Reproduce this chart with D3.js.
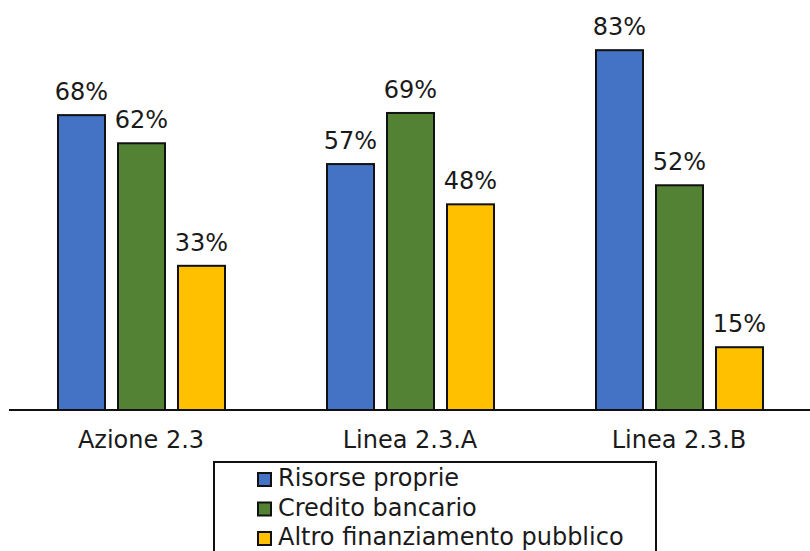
<!DOCTYPE html>
<html><head><meta charset="utf-8">
<script src="https://cdn.jsdelivr.net/npm/d3@7"></script>
<style>body{margin:0;background:#fff}svg{display:block}text{font-family:"DejaVu Sans",Verdana,sans-serif;fill:#1a1a1a}</style>
</head><body>
<script>
const categories = ["Azione 2.3", "Linea 2.3.A", "Linea 2.3.B"];
const seriesNames = ["Risorse proprie", "Credito bancario", "Altro finanziamento pubblico"];
// values; labels show them rounded
const risorseProprie = [68.1, 56.8, 83.1];
const creditoBancario = [61.6, 68.6, 51.9];
const altroFinanziamento = [33.3, 47.5, 14.5];
const colors = ["#4472C4", "#548235", "#FFC000"];

const W = 810, H = 551;
const svg = d3.select("body").append("svg").attr("width", W).attr("height", H);
const series = [risorseProprie, creditoBancario, altroFinanziamento];

const x0 = d3.scaleBand().domain(categories).range([6.5, 813.5]).paddingInner(0).paddingOuter(0);
const x1 = d3.scaleBand().domain(d3.range(3)).range([58, 225]).paddingInner(13/60).paddingOuter(0);
const y = d3.scaleLinear().domain([0, 100]).range([410, -23]);

const g = svg.append("g");
categories.forEach((c, i) => {
  const gg = g.append("g").attr("transform", `translate(${x0(c) - x0(categories[0])},0)`);
  series.forEach((s, j) => {
    const v = s[i];
    gg.append("rect")
      .attr("x", x1(j)).attr("width", x1.bandwidth())
      .attr("y", y(v)).attr("height", y(0) - y(v))
      .attr("fill", colors[j]).attr("stroke", "#111").attr("stroke-width", 2);
    gg.append("text")
      .attr("x", x1(j) + x1.bandwidth() / 2).attr("y", y(v) - 15)
      .attr("text-anchor", "middle").attr("font-size", 24)
      .text(Math.round(v) + "%");
  });
});

// axis
const axis = d3.axisBottom(x0).tickSize(0).tickPadding(0);
const ax = svg.append("g").attr("transform", "translate(0,410)").call(axis);
ax.select(".domain").attr("d", "M9,0H810").attr("stroke", "#111").attr("stroke-width", 2);
ax.selectAll(".tick text").attr("font-size", 24).attr("dy", 0).attr("y", 38)
  .style("font-family", '"DejaVu Sans",Verdana,sans-serif').attr("fill", "#1a1a1a");

// legend
const lg = svg.append("g");
lg.append("rect").attr("x", 214).attr("y", 462).attr("width", 442).attr("height", 110)
  .attr("fill", "#fff").attr("stroke", "#111").attr("stroke-width", 2);
seriesNames.forEach((n, j) => {
  const yy = 486 + j * 29.5;
  lg.append("rect").attr("x", 258).attr("y", yy - 13).attr("width", 13).attr("height", 13)
    .attr("fill", colors[j]).attr("stroke", "#111").attr("stroke-width", 2);
  lg.append("text").attr("x", 278).attr("y", yy).attr("font-size", 24).text(n);
});
</script>
</body></html>
